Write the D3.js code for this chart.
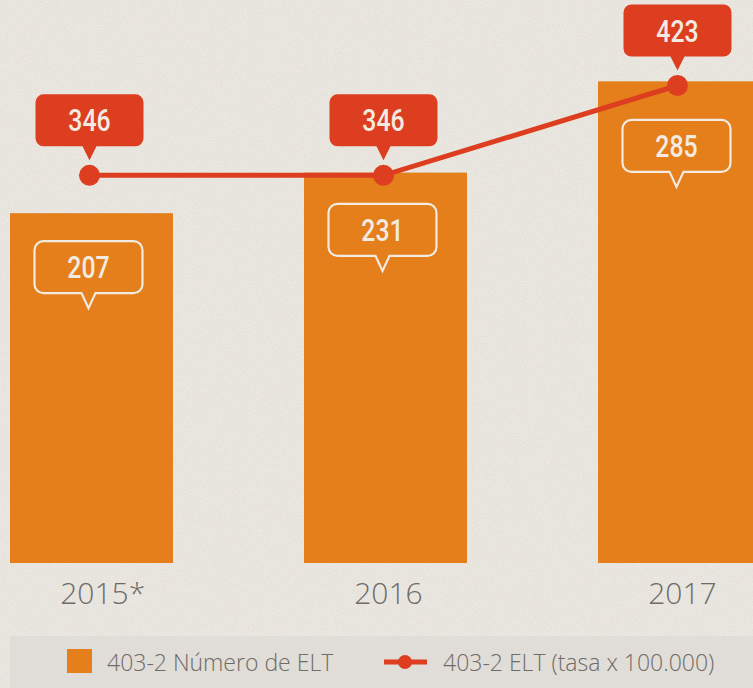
<!DOCTYPE html>
<html>
<head>
<meta charset="utf-8">
<script src="https://cdnjs.cloudflare.com/ajax/libs/d3/7.8.5/d3.min.js"></script>
<style>
  html, body { margin: 0; padding: 0; background: #ebe7e1; }
  svg { display: block; }
</style>
</head>
<body>
<div id="chart"></div>
<script>
// data
var years = ["2015*", "2016", "2017"];
var numeroELT = [207, 231, 285];   // bars
var tasaELT = [346, 346, 423];     // line (tasa x 100.000)
var legendLabels = ["403-2 Número de ELT", "403-2 ELT (tasa x 100.000)"];

var width = 753, height = 688;
var orange = "#e47f1b", red = "#dd3e1f", cream = "#f2ebe2", grey = "#6f6b67";

var svg = d3.select("#chart").append("svg")
    .attr("width", width)
    .attr("height", height);

// paper texture
var defs = svg.append("defs");
var f = defs.append("filter").attr("id", "paper").attr("x", 0).attr("y", 0).attr("width", "100%").attr("height", "100%");
f.append("feTurbulence").attr("type", "fractalNoise").attr("baseFrequency", 0.9).attr("numOctaves", 2).attr("seed", 3).attr("result", "noise");
f.append("feColorMatrix").attr("type", "matrix")
  .attr("values", "0 0 0 0 0.55  0 0 0 0 0.52  0 0 0 0 0.48  0 0 0 0.9 -0.35");
f.append("feComposite").attr("in2", "SourceGraphic").attr("operator", "in");

svg.append("rect").attr("width", width).attr("height", height).attr("fill", "#ebe7e1");
svg.append("rect").attr("width", width).attr("height", height).attr("fill", "#ebe7e1")
  .attr("filter", "url(#paper)").attr("opacity", 0.6);

var x = d3.scaleBand()
    .domain(years)
    .range([10, 761])
    .paddingInner(0.4456)
    .paddingOuter(0);

var yBar = d3.scaleLinear().domain([0, 300]).range([563, 56]);
var yLine = d3.scaleLinear().domain([300, 450]).range([229, 54]);

// bars
svg.selectAll("rect.bar")
  .data(numeroELT)
  .enter().append("rect")
  .attr("class", "bar")
  .attr("x", function(d, i){ return x(years[i]); })
  .attr("y", function(d){ return yBar(d); })
  .attr("width", x.bandwidth())
  .attr("height", function(d){ return yBar(0) - yBar(d); })
  .attr("fill", orange);

// callout path: box with pointer at bottom centre
function callout(cx, top, w, h, r, tip) {
  var l = cx - w / 2, rr = cx + w / 2, b = top + h;
  var p = d3.path();
  p.moveTo(l + r, top);
  p.lineTo(rr - r, top);
  p.arcTo(rr, top, rr, top + r, r);
  p.lineTo(rr, b - r);
  p.arcTo(rr, b, rr - r, b, r);
  p.lineTo(cx + 7, b);
  p.lineTo(cx, b + tip);
  p.lineTo(cx - 7, b);
  p.lineTo(l + r, b);
  p.arcTo(l, b, l, b - r, r);
  p.lineTo(l, top + r);
  p.arcTo(l, top, l + r, top, r);
  p.closePath();
  return p.toString();
}

var numFont = "'Roboto', 'DejaVu Sans Condensed', sans-serif";

// condensed number label
function numLabel(cx, baseline, txt) {
  svg.append("text")
    .attr("transform", "translate(" + cx + "," + baseline + ") scale(0.8,1)")
    .attr("text-anchor", "middle")
    .attr("font-family", numFont)
    .attr("font-weight", 500)
    .attr("font-size", 31)
    .attr("fill", cream)
    .text(txt);
}

// bar value callouts (outlined)
numeroELT.forEach(function(d, i) {
  var cx = x(years[i]) + x.bandwidth() / 2;
  var barH = yBar(0) - yBar(d);
  var top = yBar(d) + 0.08 * barH;
  svg.append("path")
    .attr("d", callout(cx - 3, top, 108, 52, 9, 15))
    .attr("fill", "none")
    .attr("stroke", cream)
    .attr("stroke-width", 2.2);
  numLabel(cx - 3, top + 37, d);
});

// line
var cxs = years.map(function(y){ return x(y) + x.bandwidth() / 2 - 2; });
var line = d3.line()
  .x(function(d, i){ return cxs[i]; })
  .y(function(d){ return yLine(d); });

svg.append("path")
  .datum(tasaELT)
  .attr("d", line)
  .attr("fill", "none")
  .attr("stroke", red)
  .attr("stroke-width", 5);

svg.selectAll("circle.pt")
  .data(tasaELT)
  .enter().append("circle")
  .attr("class", "pt")
  .attr("cx", function(d, i){ return cxs[i]; })
  .attr("cy", function(d){ return yLine(d); })
  .attr("r", 10.5)
  .attr("fill", red);

// line value callouts (filled)
tasaELT.forEach(function(d, i) {
  var cx = cxs[i];
  var top = yLine(d) - 29 - 52;
  svg.append("path")
    .attr("d", callout(cx, top, 108, 52, 8, 14))
    .attr("fill", red);
  numLabel(cx, top + 37, d);
});

// x axis labels
var labelFont = "'Open Sans', 'Lato', sans-serif";
years.forEach(function(yr, i) {
  var cx = x(yr) + x.bandwidth() / 2 + 3;
  var base = yr.replace("*", "");
  var t = svg.append("text")
    .attr("x", cx)
    .attr("y", 604)
    .attr("text-anchor", "middle")
    .attr("font-family", labelFont)
    .attr("font-weight", 300)
    .attr("font-size", 30)
    .attr("fill", grey)
    .text(base);
  if (yr.indexOf("*") >= 0) {
    var w = t.node().getComputedTextLength();
    svg.append("text")
      .attr("x", cx + w / 2)
      .attr("y", 604)
      .attr("font-family", labelFont)
      .attr("font-weight", 300)
      .attr("font-size", 30)
      .attr("fill", grey)
      .text("*");
  }
});

// legend
svg.append("rect")
  .attr("x", 10).attr("y", 636)
  .attr("width", width - 10).attr("height", height - 636)
  .attr("fill", "#ddd9d4").attr("opacity", 0.75);

svg.append("rect")
  .attr("x", 67).attr("y", 649)
  .attr("width", 25).attr("height", 24)
  .attr("fill", orange);
svg.append("text")
  .attr("x", 107).attr("y", 671)
  .attr("font-family", labelFont)
  .attr("font-weight", 300)
  .attr("font-size", 23)
  .attr("fill", grey)
  .text(legendLabels[0]);

svg.append("line")
  .attr("x1", 384).attr("x2", 427)
  .attr("y1", 662).attr("y2", 662)
  .attr("stroke", red).attr("stroke-width", 5);
svg.append("circle")
  .attr("cx", 405).attr("cy", 662).attr("r", 7)
  .attr("fill", red);
svg.append("text")
  .attr("x", 443).attr("y", 671)
  .attr("font-family", labelFont)
  .attr("font-weight", 300)
  .attr("font-size", 23)
  .attr("fill", grey)
  .text(legendLabels[1]);
</script>
</body>
</html>
